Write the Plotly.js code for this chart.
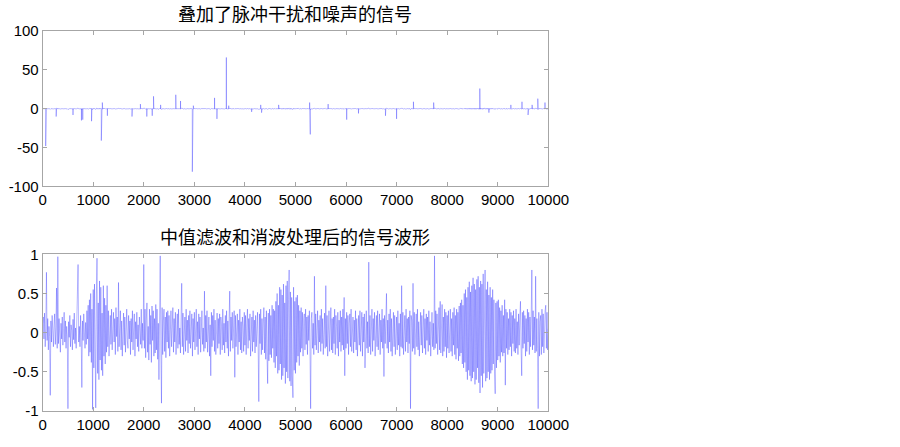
<!DOCTYPE html>
<html>
<head>
<meta charset="utf-8">
<script src="https://cdn.plot.ly/plotly-3.0.1.min.js"></script>
<style>
  html, body { margin: 0; padding: 0; background: #fff; }
  #chart { width: 900px; height: 447px; }
</style>
</head>
<body>
<div id="chart"></div>
<script>
// filtered signal in hundredths (one value every 12.5 samples)
const filteredCenti = [
  12, 20, -8, 25, -18, 5, 77, -10, 18, -22, 8, -5, -80, 15, -12, 22, 3, -18, 10, 24,
  -15, 6, 57, -20, 97, -14, 18, 2, -25, 12, -8, 20, -16, 5, 26, -12, 15, -20, 8, -5,
  -97, 14, -6, 22, -18, 10, 3, -22, 17, -9, 25, -14, 6, -20, 12, 19, 87, -12, 8, -18,
  22, -6, -70, 15, -10, 24, 4, -20, 13, -15, 28, -8, 35, -30, 42, -25, 50, -38, 30, -98,
  55, -45, 62, -20, -96, 48, 95, -52, 38, -60, 66, -35, 58, -48, 25, -55, 60, -30, 44, -40,
  35, -25, 60, -18, 28, -30, 12, 22, -15, 30, -22, 8, 26, -12, 18, -28, 32, -5, 20, -24,
  64, -18, 10, 28, -22, 15, -30, 5, 25, -16, 20, -25, 12, 30, -10, -20, 22, -8, 15, -28,
  18, -12, 28, -22, 6, 24, -30, 14, -8, 26, -18, 10, -24, 20, 5, -15, 30, -20, 12, -10,
  87, -20, 30, -32, 15, 38, -25, 8, -35, 30, -15, 22, -38, 34, -10, 28, -30, 18, -26, 36,
  -22, 30, -34, 12, -60, 25, 98, -20, -90, 32, -28, 15, 30, -24, 20, -32, 26, -12, 28, -20,
  22, -30, 15, 28, -18, 8, 32, -25, 18, -12, 26, -28, 10, 24, -20, 30, -15, 6, -26, 22,
  63, -18, 25, -28, 12, 20, -24, 30, -10, 16, -26, 22, -14, 28, -20, 8, 24, -30, 18, -12,
  26, -22, 10, 30, -18, 14, -28, 24, -8, 20, -25, 18, 28, -15, 6, -24, 53, -20, 22, -12,
  28, -25, 14, 20, -30, 10, -55, 26, -18, 22, -10, 30, -24, 16, -28, 12, 25, -20, 18, -14,
  24, -28, 20, 8, -22, 30, -16, 12, -26, 22, -12, 28, -20, 15, -30, 18, 53, -24, 20, -10,
  26, -20, 12, 28, -57, 22, -18, 10, 24, -28, 16, -12, 30, -22, 14, -26, 20, 8, -24, 26,
  -16, 22, -28, 12, 30, -20, 18, -10, 24, -30, 14, 20, -24, 28, -12, 16, -26, 22, -18, 10,
  26, -20, -88, 24, -14, 30, -28, 18, -22, 12, 32, -26, 20, -34, 28, -30, -65, 25, -36, 30,
  -28, 22, -32, 35, -20, 30, -38, 28, -45, 40, -30, 50, -52, 35, -48, 58, -40, 55, -60, 48,
  -55, 62, -45, 38, -65, 60, -50, 66, -58, 42, 80, -62, 52, -68, 45, -55, -83, 58, -48, 40,
  -52, 45, -38, 48, -30, 35, -42, 28, -25, 32, -20, 26, -30, 18, 24, -22, 30, -15, 20, -28,
  22, -10, 28, -24, -97, 18, 26, -20, 12, -28, 72, -16, 24, -22, 10, 28, -26, 16, -12, 22,
  -24, 30, -14, 18, -28, 12, 25, -20, 60, -18, 22, -30, 14, 28, -24, 10, 32, -22, 18, -26,
  20, -14, 30, -28, 22, 8, -20, 26, -30, 16, -12, 28, -24, 20, -16, 30, -22, 45, -55, 18,
  -20, 26, -14, 22, -28, 12, 24, -18, 30, -24, 8, 20, -26, 16, -12, 28, -22, 18, -30, 14,
  22, -16, 28, -24, 10, 26, -30, 20, -12, 24, -45, 18, 28, -20, 14, -26, 90, -18, 22, -28,
  12, 30, -24, 18, -10, 26, -30, 14, 22, -18, 28, -22, 10, 24, -28, 16, -12, 30, -20, 18,
  -56, 22, -14, 28, 50, -20, 16, -26, 24, -12, 30, -24, 18, -30, 12, 26, -18, 22, -28, 14,
  20, -22, 28, -16, 12, -30, 24, -18, 60, -20, 26, -28, 14, 22, -24, 30, -12, 18, -26, 20,
  -14, 28, -97, 22, 16, -24, 63, -20, 26, -28, 12, 24, -18, 30, -22, 14, -30, 20, 26, -16,
  22, -26, 12, 30, -20, 18, -28, 24, -10, 20, -24, 28, -16, 14, -30, 22, 26, -18, 12, -22,
  98, -20, 28, -14, 24, -28, 18, 32, -22, 40, -26, 14, 36, -30, 20, -24, 30, -18, 26, -32,
  22, -20, 28, -26, 14, 30, -24, 18, -30, 26, -16, 32, -28, 22, -34, 30, -20, 26, -36, 34,
  -30, 38, -26, 42, -40, 35, -45, 50, -38, 55, -50, 45, -60, 58, -48, 65, -55, 52, -62, 60,
  -58, 70, -50, 62, -66, 55, -60, 68, -45, 72, -64, 58, -77, 66, -55, 62, -70, 75, -52, 60,
  80, -62, 55, -58, 65, -50, 48, -60, 58, -52, 45, -48, 55, -40, 42, -50, -78, 38, -45, 40,
  -35, 42, -30, 32, -38, 28, -25, 35, -30, 22, -26, 42, -67, 30, -20, 26, -28, 18, -22, 30,
  -18, 26, -30, 22, -14, 28, -24, 18, -26, 30, -20, 14, -28, 24, -16, 20, 40, -22, -55, 26,
  -20, 28, -14, 22, -30, 18, -24, 30, -12, 26, -28, 20, -18, 24, 80, -22, 28, -16, 20, -26,
  72, -24, 18, -20, -97, 26, -30, 14, 22, -28, 30, -18, 24, -26, 12, 28, 35, -20, 26, -22,
  5
];

// impulses added on top of the signal (sample index, amplitude)
const impulseIdx = [60, 267, 600, 767, 793, 967, 1160, 1180, 1280, 1767, 1933, 2060, 2167, 2193, 2333,
  2633, 2727, 2960, 2980, 3400, 3447, 3633, 3680, 4133, 4313, 4330, 4667,
  5280, 5293, 5646, 6013, 6246, 6780, 7000, 7333, 7733, 8646, 8826, 9260, 9480, 9600, 9680, 9793, 9935];
const impulseVal = [-48, -10, -8, -15, -14, -16, -41, 8, -9, -10, 6, -10, -9, 16, 5,
  18, 10, -81, 4, 14, -13, 66, 4, -4, 5, -5, 5,
  8, -33, 6, -14, -6, -9, -13, 9, 8, 26, -5, 5, 9, -8, 5, 13, 8];

const xTicks = [0, 1000, 2000, 3000, 4000, 5000, 6000, 7000, 8000, 9000, 10000];
const yTopTicks = [-100, -50, 0, 50, 100];
const yTopText = ["-100", "-50", "0", "50", "100"];
const yBotTicks = [-1, -0.5, 0, 0.5, 1];
const yBotText = ["-1", "-0.5", "0", "0.5", "1"];

const titleTop = "叠加了脉冲干扰和噪声的信号";
const titleBot = "中值滤波和消波处理后的信号波形";

const nSamples = 10000;
const filtered = filteredCenti.map(v => v / 100);
const step = nSamples / (filtered.length - 1);
const xs = filtered.map((_, i) => i * step);

// noisy signal = filtered signal plus impulses
const pts = xs.map((x, i) => [x, filtered[i]]);
impulseIdx.forEach((s, i) => {
  pts.push([s - 1, 0], [s, impulseVal[i]], [s + 1, 0]);
});
pts.sort((a, b) => a[0] - b[0]);

const lineStyle = { color: "rgba(0,0,255,0.28)", width: 1 };

const traces = [
  { x: pts.map(p => p[0]), y: pts.map(p => p[1]), mode: "lines", line: lineStyle, xaxis: "x", yaxis: "y", hoverinfo: "skip" },
  { x: xs, y: filtered, mode: "lines", line: lineStyle, xaxis: "x2", yaxis: "y2", hoverinfo: "skip" }
];

const tickFont = { family: "Liberation Sans, Arial, sans-serif", size: 15, color: "#000" };
const axisBase = {
  showgrid: false, zeroline: false, showline: true, linecolor: "#a6a6a6", linewidth: 1,
  mirror: "ticks", ticks: "inside", ticklen: 4, tickcolor: "#a6a6a6", tickfont: tickFont
};
const xBase = Object.assign({}, axisBase, {
  range: [0, 10000], tickvals: xTicks, ticktext: xTicks.map(String), domain: [0.0474, 0.6092]
});

const layout = {
  width: 900, height: 447,
  margin: { l: 0, r: 0, t: 0, b: 0 },
  paper_bgcolor: "#fff", plot_bgcolor: "#fff",
  showlegend: false,
  xaxis: Object.assign({}, xBase, { anchor: "y" }),
  yaxis: Object.assign({}, axisBase, { range: [-100, 100], tickvals: yTopTicks, ticktext: yTopText, domain: [0.5828, 0.9306], anchor: "x" }),
  xaxis2: Object.assign({}, xBase, { anchor: "y2" }),
  yaxis2: Object.assign({}, axisBase, { range: [-1, 1], tickvals: yBotTicks, ticktext: yBotText, domain: [0.0805, 0.4311], anchor: "x2" }),
  annotations: [
    { text: titleTop, xref: "paper", yref: "paper", x: 0.3283, y: 0.972, xanchor: "center", yanchor: "middle",
      showarrow: false, font: { family: "Noto Sans CJK SC", size: 18, color: "#000" } },
    { text: titleBot, xref: "paper", yref: "paper", x: 0.3283, y: 0.471, xanchor: "center", yanchor: "middle",
      showarrow: false, font: { family: "Noto Sans CJK SC", size: 18, color: "#000" } }
  ]
};

Plotly.newPlot("chart", traces, layout, { displayModeBar: false, staticPlot: true });
</script>
</body>
</html>
